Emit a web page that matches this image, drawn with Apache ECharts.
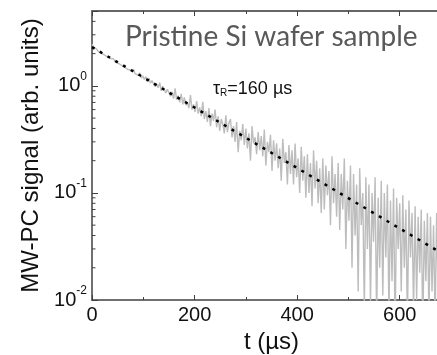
<!DOCTYPE html>
<html>
<head>
<meta charset="utf-8">
<script src="https://cdn.jsdelivr.net/npm/echarts@6/dist/echarts.min.js"></script>
<style>html,body{margin:0;padding:0;background:#fff}#c{width:437px;height:355px}</style>
</head>
<body>
<div id="c"></div>
<script>
// sampling step of the measured trace (µs)
const sampleStep = 3;
const signal = [
  2.45, 2.30, 2.22, 2.20, 2.10, 2.12, 2.02, 2.06, 1.95, 1.97,
  1.86, 1.90, 1.80, 1.76, 1.79, 1.68, 1.72, 1.63, 1.66, 1.56,
  1.60, 1.50, 1.54, 1.43, 1.49, 1.40, 1.36, 1.42, 1.30, 1.33,
  1.25, 1.32, 1.18, 1.24, 1.15, 1.22, 1.10, 1.18, 1.06, 1.12,
  1.13, 0.98, 1.04, 0.96, 1.07, 0.90, 0.99, 0.95, 0.86, 0.93,
  0.92, 0.80, 0.88, 0.76, 0.95, 0.74, 0.81, 0.70, 0.84, 0.67,
  0.78, 0.66, 0.70, 0.62, 0.82, 0.60, 0.67, 0.57, 0.72, 0.55,
  0.63, 0.52, 0.71, 0.49, 0.58, 0.46, 0.62, 0.42, 0.55, 0.47,
  0.60, 0.41, 0.52, 0.38, 0.49, 0.44, 0.36, 0.53, 0.37, 0.45,
  0.49, 0.33, 0.42, 0.30, 0.46, 0.24, 0.38, 0.31, 0.44, 0.28,
  0.40, 0.26, 0.36, 0.20, 0.42, 0.29, 0.33, 0.23, 0.37, 0.25,
  0.34, 0.22, 0.39, 0.18, 0.30, 0.24, 0.35, 0.16, 0.31, 0.20,
  0.29, 0.17, 0.26, 0.13, 0.32, 0.19, 0.24, 0.12, 0.28, 0.15,
  0.25, 0.12, 0.29, 0.14, 0.21, 0.10, 0.27, 0.13, 0.22, 0.09,
  0.23, 0.10, 0.19, 0.075, 0.25, 0.11, 0.20, 0.08, 0.17, 0.065,
  0.21, 0.07, 0.18, 0.095, 0.16, 0.05, 0.22, 0.08, 0.15, 0.06,
  0.19, 0.045, 0.15, 0.07, 0.21, 0.03, 0.13, 0.055, 0.18, 0.02,
  0.15, 0.04, 0.12, 0.012, 0.17, 0.05, 0.10, 0.008, 0.14, 0.03,
  0.12, 0.009, 0.10, 0.035, 0.14, 0.006, 0.09, 0.02, 0.13, 0.011,
  0.10, 0.025, 0.12, 0.007, 0.085, 0.015, 0.11, 0.005, 0.09, 0.03,
  0.08, 0.012, 0.095, 0.02, 0.07, 0.006, 0.085, 0.025, 0.065, 0.008,
  0.075, 0.01, 0.06, 0.018, 0.07, 0.005, 0.055, 0.015, 0.065, 0.007,
  0.06, 0.012, 0.05, 0.006, 0.065, 0.01
];
// exponential fit (tau_R = 160 µs), endpoints
const fitT = [0, 673];
const fitY = [2.3, 0.029];
// log-axis minor tick values
const minorTickValues = [
  0.02, 0.03, 0.04, 0.05, 0.06, 0.07, 0.08, 0.09,
  0.2, 0.3, 0.4, 0.5, 0.6, 0.7, 0.8, 0.9,
  2, 3, 4
];
const xTickLabels = [0, 200, 400, 600];

const signalData = signal.map((v, i) => [i * sampleStep, v]);
const fitData = fitT.map((t, i) => [t, fitY[i]]);

const chart = echarts.init(document.getElementById('c'), null, {renderer: 'canvas'});
const axisColor = '#404040';
const font = 'Liberation Sans, Arial, sans-serif';

chart.setOption({
  animation: false,
  backgroundColor: '#fff',
  grid: {left: 92, right: -14, top: 11, bottom: 55, outerBoundsMode: 'none', containLabel: false},
  xAxis: [{
    type: 'value', min: 0, max: 700, interval: 200, position: 'bottom',
    axisLine: {show: true, onZero: false, lineStyle: {color: axisColor, width: 1.5}},
    axisTick: {show: true, inside: true, length: 5, lineStyle: {color: axisColor, width: 1}},
    minorTick: {show: true, splitNumber: 2, length: 3, lineStyle: {color: axisColor, width: 1}},
    splitLine: {show: false},
    axisLabel: {
      fontFamily: font, fontSize: 20, color: '#111', margin: 5,
      formatter: v => xTickLabels.indexOf(v) >= 0 ? String(v) : ''
    },
    name: 't (\u00b5s)', nameLocation: 'middle', nameGap: 29,
    nameTextStyle: {fontFamily: font, fontSize: 24, color: '#111'}
  }, {
    type: 'value', min: 0, max: 700, interval: 200, position: 'top',
    axisLine: {show: true, onZero: false, lineStyle: {color: '#666', width: 2}},
    axisTick: {show: true, inside: true, length: 5, lineStyle: {color: axisColor, width: 1}},
    minorTick: {show: true, splitNumber: 2, length: 3, lineStyle: {color: axisColor, width: 1}},
    splitLine: {show: false},
    axisLabel: {show: false}
  }],
  yAxis: {
    type: 'log', logBase: 10, min: 0.01, max: 5,
    axisLine: {show: true, onZero: false, lineStyle: {color: axisColor, width: 1.5}},
    axisTick: {show: true, inside: true, length: 6, lineStyle: {color: axisColor, width: 1}},
    splitLine: {show: false},
    axisLabel: {
      fontFamily: font, fontSize: 20, color: '#111', margin: 5,
      formatter: v => {
        const l = Math.log10(v);
        const e = Math.round(l);
        if (Math.abs(l - e) > 1e-6) return '';
        return '10{s|' + e + '}';
      },
      rich: {s: {fontFamily: font, fontSize: 12, color: '#111', verticalAlign: 'top', padding: [0, 0, 18, 0]}}
    },
    name: 'MW-PC signal (arb. units)', nameLocation: 'middle', nameGap: 48, nameRotate: 90,
    nameTextStyle: {fontFamily: font, fontSize: 24, color: '#111'}
  },
  series: [{
    type: 'line', data: signalData, showSymbol: false, symbol: 'none',
    lineStyle: {color: '#bdbdbd', width: 1.4}, clip: true, z: 2
  }, {
    type: 'line', data: fitData, showSymbol: false, symbol: 'none',
    lineStyle: {color: '#000', width: 2.5, type: [3, 6]}, clip: true, z: 3
  }, {
    type: 'custom', data: minorTickValues.map(v => [0, v]), z: 4, silent: true,
    renderItem: (params, api) => {
      const p = api.coord([0, api.value(1)]);
      return {type: 'line', shape: {x1: p[0], y1: p[1], x2: p[0] + 3.5, y2: p[1]},
        style: {stroke: axisColor, lineWidth: 1}};
    }
  }],
  graphic: [{
    type: 'text', left: 125, top: 23, z: 10,
    style: {text: 'Pristine Si wafer sample', fontFamily: 'Lato, sans-serif', fontSize: 28, fill: '#595959'}
  }, {
    type: 'text', left: 213, top: 80, z: 10,
    style: {
      text: '\u03c4{r|R}=160 \u00b5s', fontFamily: font, fontSize: 18, fill: '#111',
      rich: {r: {fontFamily: font, fontSize: 10, fill: '#111', padding: [8, 0, 0, 0]}}
    }
  }]
});
</script>
</body>
</html>
